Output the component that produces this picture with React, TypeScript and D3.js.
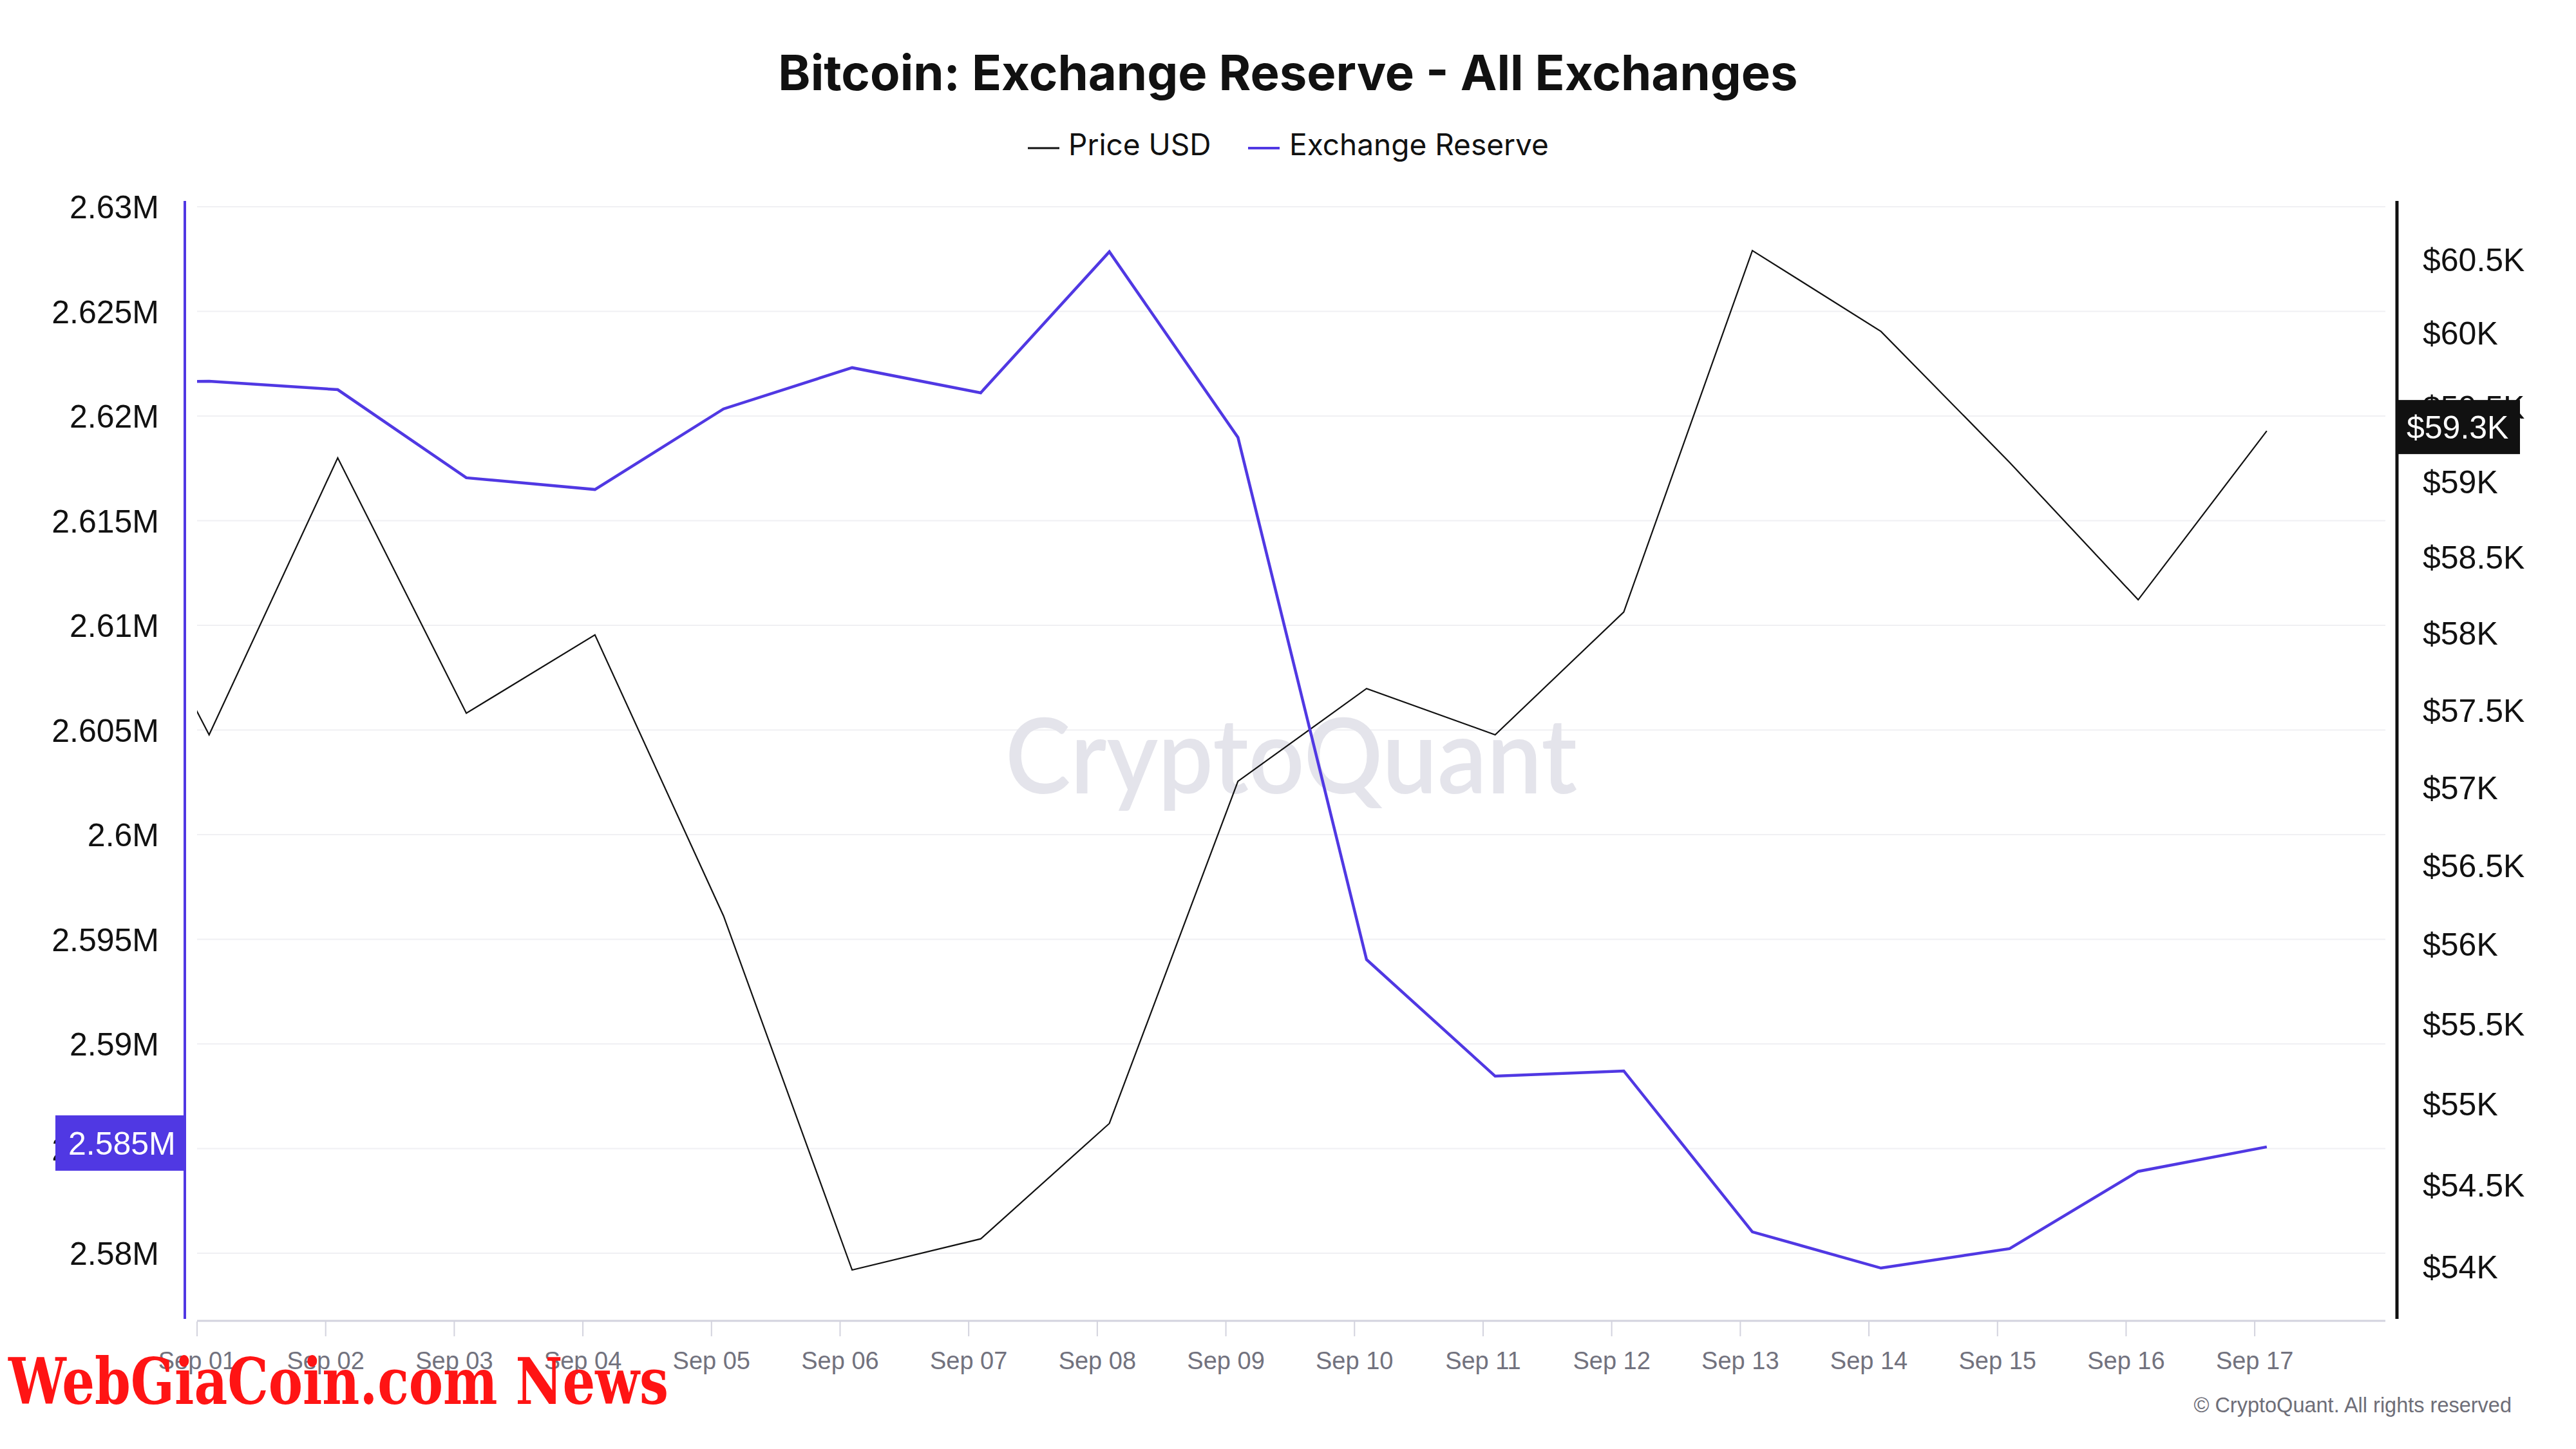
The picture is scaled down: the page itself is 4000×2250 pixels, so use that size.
import React from "react";
import * as d3 from "d3";

const dates = [
  "2024-08-31T02:15:00Z", "2024-09-01T02:15:00Z", "2024-09-02T02:15:00Z", "2024-09-03T02:15:00Z",
  "2024-09-04T02:15:00Z", "2024-09-05T02:15:00Z", "2024-09-06T02:15:00Z", "2024-09-07T02:15:00Z",
  "2024-09-08T02:15:00Z", "2024-09-09T02:15:00Z", "2024-09-10T02:15:00Z", "2024-09-11T02:15:00Z",
  "2024-09-12T02:15:00Z", "2024-09-13T02:15:00Z", "2024-09-14T02:15:00Z", "2024-09-15T02:15:00Z",
  "2024-09-16T02:15:00Z", "2024-09-17T02:15:00Z",
];
const priceUSD = [
  58.97, 57.34, 59.16, 57.48, 57.99, 56.18, 53.98, 54.17, 54.88, 57.04, 57.64, 57.34, 58.14,
  60.56, 60.01, 59.13, 58.22, 59.34,
];
const exchangeReserve = [
  2.6216, 2.62166, 2.62126, 2.61705, 2.61649, 2.62034, 2.62231, 2.62111, 2.62785, 2.61898,
  2.59403, 2.58846, 2.58871, 2.58102, 2.57929, 2.58022, 2.58391, 2.58508,
];
const leftTicks = [2.58, 2.585, 2.59, 2.595, 2.6, 2.605, 2.61, 2.615, 2.62, 2.625, 2.63];
const rightTicks = [54, 54.5, 55, 55.5, 56, 56.5, 57, 57.5, 58, 58.5, 59, 59.5, 60, 60.5];
const leftTickLabels = ["2.58M", "2.585M", "2.59M", "2.595M", "2.6M", "2.605M", "2.61M", "2.615M", "2.62M", "2.625M", "2.63M"];
const rightTickLabels = ["$54K", "$54.5K", "$55K", "$55.5K", "$56K", "$56.5K", "$57K", "$57.5K", "$58K", "$58.5K", "$59K", "$59.5K", "$60K", "$60.5K"];
const lastPriceLabel = "$59.3K";
const lastReserveLabel = "2.585M";

const PURPLE = "#5038e3";
const AXIS_FONT = "'Liberation Sans', Arial, Helvetica, sans-serif";

export default function App() {
  const W = 4000, H = 2250;
  const plot = { left: 306, right: 3704, top: 312, bottom: 2050 };

  const parsed = dates.map((d) => new Date(d));
  const x = d3
    .scaleUtc()
    .domain([new Date("2024-09-01T00:00:00Z"), new Date("2024-09-18T00:23:00Z")])
    .range([plot.left, plot.right]);
  const yL = d3.scaleLinear().domain([2.5768, 2.630277]).range([plot.bottom, plot.top]);
  const yR = d3.scaleLog().domain([53.675, 60.9]).range([plot.bottom, plot.top]);

  const xTicks = d3.utcDay.range(new Date("2024-09-01T00:00:00Z"), new Date("2024-09-17T12:00:00Z"));
  const fmt = d3.utcFormat("%b %d");

  const priceLine = d3
    .line<number>()
    .x((_, i) => x(parsed[i]))
    .y((d) => yR(d))(priceUSD) as string;
  const reserveLine = d3
    .line<number>()
    .x((_, i) => x(parsed[i]))
    .y((d) => yL(d))(exchangeReserve) as string;

  const lastP = priceUSD[priceUSD.length - 1];
  const lastR = exchangeReserve[exchangeReserve.length - 1];
  const pY = yR(lastP) - 6;
  const rY = yL(lastR) - 6;

  return (
    <svg
      width={W}
      height={H}
      style={{ position: "absolute", left: 0, top: 0, background: "#fff" }}
      xmlns="http://www.w3.org/2000/svg"
    >
      <rect x={0} y={0} width={W} height={H} fill="#fff" />
      <defs>
        <clipPath id="plotClip">
          <rect x={plot.left} y={plot.top} width={plot.right - plot.left} height={plot.bottom - plot.top} />
        </clipPath>
      </defs>

      {/* Title */}
      <text
        x={2000}
        y={140}
        textAnchor="middle"
        fontFamily="Inter, 'Noto Sans', sans-serif"
        fontWeight={700}
        fontSize={76}
        fill="#111"
      >
        Bitcoin: Exchange Reserve - All Exchanges
      </text>

      {/* Legend */}
      <g fontFamily="Inter, 'Noto Sans', sans-serif" fontSize={46} fill="#111">
        <line x1={1596} x2={1645} y1={230} y2={230} stroke="#111" strokeWidth={3} />
        <text x={1659} y={241}>Price USD</text>
        <line x1={1938} x2={1987} y1={230} y2={230} stroke={PURPLE} strokeWidth={4} />
        <text x={2002} y={241}>Exchange Reserve</text>
      </g>

      {/* Gridlines */}
      {leftTicks.map((t) => (
        <line key={"g" + t} x1={plot.left} x2={plot.right} y1={yL(t)} y2={yL(t)} stroke="#f0f0f3" strokeWidth={2} />
      ))}

      {/* Watermark */}
      <text
        x={2005}
        y={1232}
        textAnchor="middle"
        fontFamily="Lato, 'Noto Sans', sans-serif"
        fontWeight={600}
        fontSize={162}
        fill="#e4e4eb"
        textLength={888}
        lengthAdjust="spacingAndGlyphs"
      >
        CryptoQuant
      </text>

      {/* X axis */}
      <line x1={plot.left} x2={plot.right} y1={plot.bottom + 1} y2={plot.bottom + 1} stroke="#d3d3de" strokeWidth={3} />
      {xTicks.map((t) => (
        <g key={t.toISOString()}>
          <line x1={x(t)} x2={x(t)} y1={plot.bottom + 2} y2={plot.bottom + 25} stroke="#d3d3de" strokeWidth={2} />
          <text
            x={x(t)}
            y={2126}
            textAnchor="middle"
            fontFamily={AXIS_FONT}
            fontSize={38}
            fill="#72727e"
          >
            {fmt(t)}
          </text>
        </g>
      ))}

      {/* Series */}
      <g clipPath="url(#plotClip)">
        <path d={priceLine} fill="none" stroke="#111" strokeWidth={2.2} strokeLinejoin="miter" />
        <path d={reserveLine} fill="none" stroke={PURPLE} strokeWidth={4.5} strokeLinejoin="miter" />
      </g>

      {/* Left axis */}
      <line x1={287} x2={287} y1={plot.top} y2={plot.bottom - 2} stroke={PURPLE} strokeWidth={4} />
      {leftTicks.map((t, i) => (
        <text
          key={"l" + t}
          x={247}
          y={yL(t) + 18}
          textAnchor="end"
          fontFamily={AXIS_FONT}
          fontSize={50}
          fill="#111"
        >
          {leftTickLabels[i]}
        </text>
      ))}
      <rect x={86} y={rY - 43} width={199} height={86} fill={PURPLE} />
      <text x={106} y={rY + 18} fontFamily={AXIS_FONT} fontSize={50} fill="#fff">
        {lastReserveLabel}
      </text>

      {/* Right axis */}
      <line x1={3722} x2={3722} y1={plot.top} y2={plot.bottom - 2} stroke="#111" strokeWidth={5} />
      {rightTicks.map((t, i) => (
        <text
          key={"r" + t}
          x={3762}
          y={yR(t) + 18}
          fontFamily={AXIS_FONT}
          fontSize={50}
          fill="#111"
        >
          {rightTickLabels[i]}
        </text>
      ))}
      <rect x={3724} y={pY - 42} width={189} height={84} fill="#111" />
      <text x={3737} y={pY + 18} fontFamily={AXIS_FONT} fontSize={50} fill="#fff">
        {lastPriceLabel}
      </text>

      {/* Copyright */}
      <text x={3900} y={2193} textAnchor="end" fontFamily={AXIS_FONT} fontSize={32.5} fill="#6e6e78">
        © CryptoQuant. All rights reserved
      </text>

      {/* Overlay brand */}
      <text
        x={13}
        y={2180}
        fontFamily="'DejaVu Serif', serif"
        fontWeight={700}
        fontSize={100}
        fill="#ff1414"
        textLength={1025}
        lengthAdjust="spacingAndGlyphs"
      >
        WebGiaCoin.com News
      </text>
    </svg>
  );
}
